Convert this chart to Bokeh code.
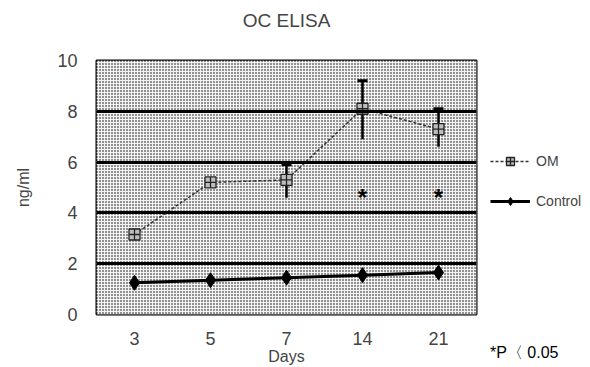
from bokeh.plotting import figure
from bokeh.models import (ColumnDataSource, Whisker, TeeHead, BoxAnnotation, Legend,
                          LegendItem, Title, FixedTicker)
from bokeh.core.properties import value
from bokeh.embed import file_html
from bokeh.resources import INLINE

days = ["3", "5", "7", "14", "21"]
om = [3.15, 5.2, 5.3, 8.1, 7.3]
om_upper = [3.15, 5.2, 5.9, 9.2, 8.1]
om_lower = [3.15, 5.2, 4.6, 6.9, 6.6]
control = [1.25, 1.35, 1.45, 1.55, 1.65]
sig_days = ["14", "21"]
sig_y = [4.6, 4.6]
y_ticks = [0, 2, 4, 6, 8, 10]

FONT = "Liberation Sans"

p = figure(x_range=days, y_range=(0, 10), frame_width=380, frame_height=254,
           output_backend="svg", toolbar_location=None,
           min_border_left=96, min_border_right=114, min_border_top=57, min_border_bottom=56)

p.title.text = "OC ELISA"
p.title.align = "center"
p.title.text_font = FONT
p.title.text_font_size = "19px"
p.title.text_font_style = "normal"
p.title.offset = 0
p.title.standoff = 14

# spacer between title and frame
p.add_layout(Title(text=" ", text_font=FONT, text_font_size="12px", standoff=7), "above")

p.background_fill_color = "#909090"
p.add_layout(BoxAnnotation(fill_color="#939393", fill_alpha=1.0, line_color=None,
                           hatch_pattern="+", hatch_color="white", hatch_scale=3,
                           hatch_weight=1, hatch_alpha=0.85, level="underlay"))

p.outline_line_color = "black"
p.outline_line_width = 2
p.xgrid.grid_line_color = None
p.ygrid.grid_line_color = "black"
p.ygrid.grid_line_width = 3
p.ygrid.level = "glyph"

for ax in (p.xaxis[0], p.yaxis[0]):
    ax.axis_line_color = None
    ax.major_tick_line_color = None
    ax.minor_tick_line_color = None
    ax.major_label_text_font = FONT
    ax.major_label_text_font_size = "18px"
    ax.axis_label_text_font = FONT
    ax.axis_label_text_font_size = "16px"
    ax.axis_label_text_font_style = "normal"

p.yaxis.ticker = FixedTicker(ticks=y_ticks)
p.yaxis.major_label_standoff = 13
p.yaxis.axis_label = "ng/ml"
p.yaxis.axis_label_standoff = 22
p.xaxis.major_label_standoff = 11
p.xaxis.axis_label = "Days"
p.xaxis.axis_label_standoff = 0

src = ColumnDataSource(dict(days=days, om=om, upper=om_upper, lower=om_lower, control=control))

p.add_layout(Whisker(source=src, base="days", upper="upper", lower="lower",
                     line_color="black", line_width=2.5,
                     upper_head=TeeHead(size=10, line_width=3, line_color="black"),
                     lower_head=None))

r_om_line = p.line("days", "om", source=src, line_color="#333333", line_width=1.5, line_dash="3 2")
r_om = p.scatter("days", "om", source=src, marker="square_cross", size=11,
                 line_color="#222222", fill_color="#bdbdbd", line_width=1.3)

r_c_line = p.line("days", "control", source=src, line_color="black", line_width=3)
r_c = p.scatter("days", "control", source=src, marker="diamond", size=15,
                line_color="black", fill_color="black")

p.text(x=sig_days, y=sig_y, text=["*", "*"], text_font=value(FONT), text_font_size="24px",
       text_font_style="bold", text_align="center", text_baseline="middle", text_color="black")

legend = Legend(items=[LegendItem(label="OM", renderers=[r_om_line, r_om]),
                       LegendItem(label="Control", renderers=[r_c_line, r_c])],
                location=(14, -50), spacing=20, glyph_width=40, glyph_height=20,
                label_height=20, label_text_font=FONT,
                label_text_font_size="14px", border_line_color=None,
                background_fill_alpha=0, padding=0, margin=0, label_standoff=6,
                title="*P〈 0.05", title_location="below", title_standoff=132,
                title_text_font=FONT, title_text_font_size="16px",
                title_text_font_style="normal", title_text_color="black")
p.add_layout(legend, "right")

open("out.html", "w").write(file_html(p, INLINE))
